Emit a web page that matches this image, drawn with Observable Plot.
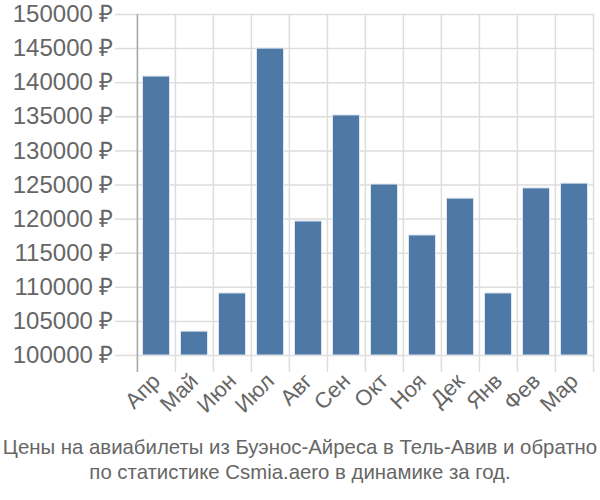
<!DOCTYPE html>
<html>
<head>
<meta charset="utf-8">
<script src="https://cdn.jsdelivr.net/npm/d3@7"></script>
<script src="https://cdn.jsdelivr.net/npm/@observablehq/plot@0.6"></script>
<style>
  html, body { margin: 0; padding: 0; background: #fff; overflow: hidden; }
  body { width: 600px; font-family: "Liberation Sans", Arial, sans-serif; }
  #capwrap { width: 600px; margin-top: 14px; }
  #caption { display: inline-block; position: relative; left: 50%; text-align: center; color: #666; font-size: 21px; line-height: 25px; white-space: nowrap; transform: translateX(-50%) scaleX(0.97); transform-origin: center; }
</style>
</head>
<body>
<div id="chart"></div>
<div id="capwrap"><div id="caption">Цены на авиабилеты из Буэнос-Айреса в Тель-Авив и обратно<br>по статистике Csmia.aero в динамике за год.</div></div>
<script>
const months = ["Апр","Май","Июн","Июл","Авг","Сен","Окт","Ноя","Дек","Янв","Фев","Мар"];
const prices = [140900, 103500, 109100, 145000, 119650, 135200, 125070, 117600, 123000, 109100, 124500, 125200];
const yTicks = [100000,105000,110000,115000,120000,125000,130000,135000,140000,145000,150000];

const data = months.map((m, i) => ({month: m, price: prices[i]}));
const W = 600, ML = 136, MR = 6;
const step = (W - ML - MR) / months.length;

const chart = Plot.plot({
  width: W,
  height: 420,
  marginLeft: ML,
  marginRight: MR,
  marginTop: 14,
  marginBottom: 65,
  style: {fontFamily: "Liberation Sans, Arial, sans-serif", color: "#666", background: "#fff"},
  x: {domain: months, padding: 0, label: null},
  y: {domain: [100000, 150000], label: null},
  marks: [
    Plot.ruleY(yTicks, {stroke: "#ddd", strokeWidth: 1.5}),
    Plot.ruleX(months, {x: d => d, dx: -step / 2, y1: 97500, y2: 150000, stroke: "#ddd", strokeWidth: 1.5}),
    Plot.ruleX([months[months.length - 1]], {dx: step / 2, y1: 97500, y2: 150000, stroke: "#ddd", strokeWidth: 1.5}),
    Plot.ruleX([months[0]], {dx: -step / 2, y1: 97500, y2: 150000, stroke: "#aaa", strokeWidth: 1.5}),
    Plot.barY(data, {x: "month", y1: 100000, y2: "price", fill: "#4e79a7", stroke: "#dde6ef", strokeWidth: 1, insetLeft: 5.5, insetRight: 5.5}),
    Plot.axisY({ticks: yTicks, tickFormat: d => d + " ₽", tickSize: 21, stroke: "#ddd", strokeWidth: 1.5, strokeOpacity: 1, tickPadding: 2, fontSize: 24, fill: "#666"}),
    Plot.axisX({tickSize: 0, tickRotate: -45, tickPadding: 22, fontSize: 22, fill: "#666"})
  ]
});
document.getElementById("chart").appendChild(chart);
</script>
</body>
</html>
